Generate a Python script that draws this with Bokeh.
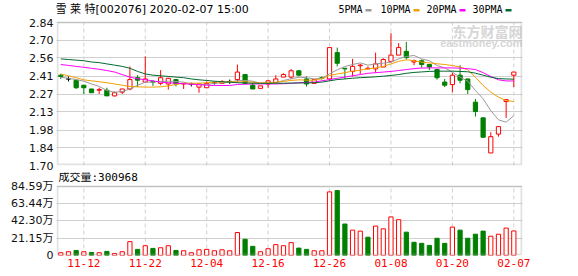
from bokeh.plotting import figure
from bokeh.models import Range1d, FixedTicker, Label, BoxAnnotation, CustomJSTickFormatter, PrintfTickFormatter
from bokeh.layouts import column
from bokeh.embed import file_html
from bokeh.resources import INLINE

# ---------------- data ----------------
dates = ["11-07", "11-08", "11-11", "11-12", "11-13", "11-14", "11-15", "11-18", "11-19", "11-20",
         "11-21", "11-22", "11-25", "11-26", "11-27", "11-28", "11-29", "12-02", "12-03", "12-04",
         "12-05", "12-06", "12-09", "12-10", "12-11", "12-12", "12-13", "12-16", "12-17", "12-18",
         "12-19", "12-20", "12-23", "12-24", "12-25", "12-26", "12-27", "12-30", "12-31", "01-02",
         "01-03", "01-06", "01-07", "01-08", "01-09", "01-10", "01-13", "01-14", "01-15", "01-16",
         "01-17", "01-20", "01-21", "01-22", "01-23", "02-03", "02-04", "02-05", "02-06", "02-07"]

open_ = [2.42, 2.39, 2.38, 2.34, 2.31, 2.30, 2.30, 2.255, 2.285, 2.31,
         2.40, 2.365, 2.37, 2.355, 2.35, 2.385, 2.35, 2.35, 2.325, 2.32,
         2.36, 2.355, 2.37, 2.385, 2.425, 2.34, 2.315, 2.35, 2.36, 2.405,
         2.405, 2.455, 2.39, 2.355, 2.40, 2.39, 2.60, 2.475, 2.45, 2.495,
         2.47, 2.47, 2.485, 2.53, 2.58, 2.61, 2.525, 2.535, 2.505, 2.465,
         2.365, 2.345, 2.42, 2.39, 2.205, 2.08, 1.80, 1.95, 2.21, 2.42]
high = [2.43, 2.41, 2.38, 2.34, 2.31, 2.32, 2.32, 2.29, 2.31, 2.49,
        2.42, 2.57, 2.38, 2.46, 2.40, 2.39, 2.355, 2.36, 2.355, 2.37,
        2.37, 2.38, 2.385, 2.505, 2.43, 2.36, 2.335, 2.38, 2.42, 2.435,
        2.47, 2.46, 2.41, 2.39, 2.41, 2.64, 2.64, 2.475, 2.55, 2.51,
        2.49, 2.60, 2.555, 2.755, 2.675, 2.685, 2.545, 2.545, 2.51, 2.47,
        2.39, 2.44, 2.50, 2.39, 2.23, 2.08, 1.965, 2.01, 2.225, 2.445]
low = [2.39, 2.37, 2.31, 2.27, 2.28, 2.27, 2.255, 2.25, 2.27, 2.30,
       2.325, 2.36, 2.335, 2.34, 2.305, 2.33, 2.31, 2.33, 2.28, 2.32,
       2.345, 2.35, 2.35, 2.36, 2.355, 2.31, 2.31, 2.32, 2.36, 2.405,
       2.39, 2.41, 2.33, 2.35, 2.385, 2.375, 2.49, 2.39, 2.41, 2.43,
       2.47, 2.44, 2.485, 2.52, 2.58, 2.545, 2.50, 2.48, 2.46, 2.385,
       2.325, 2.285, 2.355, 2.27, 2.09, 1.925, 1.80, 1.93, 2.08, 2.325]
close = [2.41, 2.39, 2.32, 2.32, 2.28, 2.305, 2.255, 2.28, 2.31, 2.385,
         2.38, 2.39, 2.365, 2.40, 2.395, 2.35, 2.355, 2.35, 2.35, 2.355,
         2.36, 2.37, 2.37, 2.445, 2.355, 2.31, 2.335, 2.375, 2.39, 2.425,
         2.455, 2.42, 2.35, 2.385, 2.395, 2.64, 2.515, 2.47, 2.49, 2.50,
         2.475, 2.51, 2.545, 2.58, 2.64, 2.56, 2.535, 2.505, 2.485, 2.40,
         2.34, 2.42, 2.38, 2.305, 2.13, 1.925, 1.93, 2.01, 2.225, 2.445]

ma5 = [2.404, 2.395, 2.385, 2.372, 2.35, 2.33, 2.298, 2.284, 2.29, 2.31,
       2.34, 2.364, 2.365, 2.37, 2.372, 2.37, 2.364, 2.35, 2.346, 2.345,
       2.355, 2.358, 2.364, 2.378, 2.378, 2.372, 2.356, 2.356, 2.358, 2.378,
       2.391, 2.404, 2.40, 2.39, 2.396, 2.43, 2.463, 2.489, 2.505, 2.518,
       2.50, 2.51, 2.516, 2.524, 2.55, 2.569, 2.577, 2.55, 2.535, 2.497,
       2.479, 2.444, 2.404, 2.372, 2.298, 2.232, 2.138, 2.064, 2.045, 2.098]
ma10 = [2.43, 2.415, 2.40, 2.383, 2.375, 2.368, 2.36, 2.35, 2.34, 2.33,
        2.327, 2.325, 2.325, 2.327, 2.335, 2.345, 2.356, 2.356, 2.356, 2.36,
        2.364, 2.366, 2.368, 2.366, 2.368, 2.364, 2.358, 2.36, 2.364, 2.37,
        2.378, 2.383, 2.38, 2.38, 2.392, 2.417, 2.43, 2.44, 2.452, 2.46,
        2.47, 2.478, 2.49, 2.51, 2.53, 2.543, 2.535, 2.524, 2.518, 2.511,
        2.505, 2.497, 2.485, 2.463, 2.404, 2.338, 2.285, 2.245, 2.218, 2.21]
ma20 = [2.505, 2.498, 2.49, 2.483, 2.475, 2.467, 2.457, 2.445, 2.425, 2.404,
        2.392, 2.383, 2.375, 2.364, 2.36, 2.356, 2.352, 2.348, 2.344, 2.34,
        2.338, 2.338, 2.338, 2.346, 2.348, 2.35, 2.35, 2.35, 2.35, 2.352,
        2.355, 2.36, 2.362, 2.365, 2.375, 2.385, 2.395, 2.405, 2.415, 2.425,
        2.435, 2.44, 2.445, 2.45, 2.457, 2.465, 2.472, 2.477, 2.478, 2.478,
        2.478, 2.478, 2.476, 2.472, 2.465, 2.44, 2.41, 2.383, 2.374, 2.374]
ma30 = [2.55, 2.545, 2.54, 2.535, 2.525, 2.52, 2.51, 2.50, 2.49, 2.475,
        2.45, 2.43, 2.42, 2.415, 2.41, 2.405, 2.40, 2.39, 2.383, 2.378,
        2.372, 2.368, 2.364, 2.36, 2.358, 2.356, 2.355, 2.355, 2.356, 2.356,
        2.357, 2.358, 2.358, 2.36, 2.365, 2.375, 2.385, 2.39, 2.396, 2.40,
        2.403, 2.407, 2.412, 2.418, 2.425, 2.435, 2.442, 2.446, 2.45, 2.452,
        2.452, 2.452, 2.45, 2.447, 2.436, 2.42, 2.404, 2.393, 2.39, 2.388]

# volume in units of 万 (10,000 shares)
volume = [3.4, 4.6, 6.2, 4.6, 3.7, 3.4, 5.0, 2.5, 4.6, 17.0,
          7.5, 12.0, 8.7, 9.5, 12.0, 6.2, 5.8, 3.4, 7.0, 7.5,
          5.8, 7.0, 5.8, 28.2, 19.9, 11.2, 4.6, 8.3, 13.3, 12.0,
          15.8, 9.1, 7.5, 5.8, 5.8, 78.0, 79.6, 38.6, 31.1, 29.9,
          22.4, 36.1, 32.7, 47.3, 43.9, 28.6, 16.2, 14.9, 12.4, 21.1,
          14.9, 34.8, 31.1, 21.1, 26.1, 29.9, 23.6, 26.1, 33.6, 30.0968]
vol_dir = list("RRGRGRGRRR" "GRGRRGRRRR" "RRRRGGRRRR"
               "RGGRRRGGRR" "GRRRRGGGGG" "GRGGGGRRRR")

price_tick_labels = ["1.70", "1.84", "1.98", "2.13", "2.27", "2.41", "2.56", "2.70", "2.84"]
vol_tick_labels = ["0", "21.15", "42.30", "63.44", "84.59"]
date_tick_idx = [3, 11, 19, 27, 35, 43, 51, 59]

title_text = "雪 莱 特[002076] 2020-02-07 15:00"
legend_names = ["5PMA", "10PMA", "20PMA", "30PMA"]

# ---------------- styling ----------------
RED, GREEN, BLACK = "#ff0000", "#008000", "#000000"
MA_COLORS = ["#999999", "#f0a000", "#ff00ff", "#006a2e"]
GRID = "#d0d0d0"
FRAME = "#a0a0a0"
AX_FONT = "DejaVu Sans, Noto Sans CJK SC"
MONO = "DejaVu Sans Mono, Noto Sans CJK SC"
W = 578
FRAME_W = 466                      # plotting-area width in px
P1_H, P1_TOP, P1_BOT = 172, 22, 7  # price panel: canvas height, frame top/bottom margins
P2_H, P2_TOP, P2_BOT = 104, 14, 21  # volume panel

n = len(dates)
idx = list(range(n))
cndl_col = [RED if c > o else (GREEN if c < o else BLACK) for o, c in zip(open_, close)]
cndl_fill = ["#ffffff" if c > o else col for o, c, col in zip(open_, close, cndl_col)]
body_top = [max(o, c) for o, c in zip(open_, close)]
body_bot = [min(o, c) for o, c in zip(open_, close)]
vol_col = [RED if d == "R" else GREEN for d in vol_dir]
vol_fill = ["#ffffff" if d == "R" else GREEN for d in vol_dir]

xr = Range1d(-0.56, 60.13)


def make_panel(height, top_margin, bottom_margin, y0, y1):
    """Figure whose frame extends up to the canvas top, so that texts above
    the drawn box stay inside the (unclipped) frame area."""
    inner = height - top_margin - bottom_margin
    y_end = y0 + (y1 - y0) * (inner + top_margin) / inner
    p = figure(width=W, height=height, x_range=xr, y_range=Range1d(y0, y_end),
               output_backend="svg", toolbar_location=None,
               min_border_left=56, min_border_right=W - 56 - FRAME_W,
               min_border_top=0, min_border_bottom=bottom_margin)
    p.background_fill_color = "white"
    p.border_fill_color = "white"
    p.outline_line_color = None
    p.xgrid.visible = False
    p.ygrid.grid_line_color = GRID
    for ax in (p.xaxis[0], p.yaxis[0]):
        ax.axis_line_color = None
        ax.major_tick_line_color = None
        ax.minor_tick_line_color = None
        ax.major_tick_out = 0
        ax.minor_tick_out = 0
        ax.major_label_standoff = 3
    p.yaxis[0].major_label_text_font = AX_FONT
    p.yaxis[0].major_label_text_font_size = "11px"
    p.yaxis[0].major_label_text_color = "#111111"
    # dashed vertical grid lines, only inside the drawn box
    p.segment(x0=date_tick_idx, y0=[y0] * len(date_tick_idx), x1=date_tick_idx,
              y1=[y1] * len(date_tick_idx), line_color=GRID, line_dash="4 3", line_width=1)
    # the box around the plotting area
    p.add_layout(BoxAnnotation(left=1, right=FRAME_W - 1, bottom=1, top=y1,
                               left_units="screen", right_units="screen",
                               bottom_units="screen", top_units="data",
                               fill_alpha=0, line_color=FRAME, line_width=2, level="overlay"))
    return p


# ---------------- price panel ----------------
p1 = make_panel(P1_H, P1_TOP, P1_BOT, 1.70, 2.84)
price_ticks = [float(s) for s in price_tick_labels]
p1.yaxis[0].ticker = FixedTicker(ticks=price_ticks)
p1.yaxis[0].formatter = PrintfTickFormatter(format="%.2f")
p1.ygrid.ticker = FixedTicker(ticks=price_ticks)
p1.xaxis[0].visible = False
f1_h = P1_H - P1_BOT  # frame height in px (frame-relative screen y is measured from its bottom)

# watermark
p1.add_layout(Label(x=FRAME_W, y=f1_h - 30, x_units="screen", y_units="screen", text="东方财富网",
                    text_align="right", text_baseline="middle", text_font="Noto Sans CJK SC",
                    text_font_style="bold", text_font_size="14px", text_color="#d6d6d6"))
p1.add_layout(Label(x=FRAME_W, y=f1_h - 42, x_units="screen", y_units="screen", text="eastmoney.com",
                    text_align="right", text_baseline="middle", text_font="Liberation Sans",
                    text_font_style="bold", text_font_size="11px", text_color="#d6d6d6"))

p1.segment(x0=idx, y0=low, x1=idx, y1=high, line_color=cndl_col, line_width=1)
p1.vbar(x=idx, width=0.55, top=body_top, bottom=body_bot,
        fill_color=cndl_fill, line_color=cndl_col, line_width=1)
for ma, col in zip([ma5, ma10, ma20, ma30], MA_COLORS):
    p1.line(idx, ma, line_color=col, line_width=1)

# title and legend
p1.add_layout(Label(x=-1, y=f1_h - 8.5, x_units="screen", y_units="screen", text=title_text,
                    text_baseline="middle", text_font=AX_FONT, text_font_size="11px",
                    text_color="#000000"))
leg_x = [282, 324, 370, 416]
for name, col, lx in zip(legend_names, MA_COLORS, leg_x):
    p1.add_layout(Label(x=lx, y=f1_h - 9, x_units="screen", y_units="screen", text=name,
                        text_baseline="middle", text_font=MONO, text_font_size="10px",
                        text_color="#000000"))
    dx = lx + len(name) * 6 + 3
    p1.add_layout(BoxAnnotation(left=dx, right=dx + 6, bottom=f1_h - 11, top=f1_h - 8.5,
                                left_units="screen", right_units="screen",
                                bottom_units="screen", top_units="screen",
                                fill_color=col, fill_alpha=1, line_color=None))

# ---------------- volume panel ----------------
vmax = float(vol_tick_labels[-1])
p2 = make_panel(P2_H, P2_TOP, P2_BOT, 0, vmax)
vol_ticks = [float(s) for s in vol_tick_labels]
p2.yaxis[0].ticker = FixedTicker(ticks=vol_ticks)
p2.yaxis[0].formatter = CustomJSTickFormatter(code="return tick == 0 ? '0' : tick.toFixed(2) + '万';")
p2.ygrid.ticker = FixedTicker(ticks=vol_ticks)
p2.xaxis[0].ticker = FixedTicker(ticks=date_tick_idx)
p2.xaxis[0].major_label_overrides = {i: dates[i] for i in date_tick_idx}
p2.xaxis[0].major_label_text_color = RED
p2.xaxis[0].major_label_text_font = MONO
p2.xaxis[0].major_label_text_font_size = "11px"

p2.vbar(x=idx, width=0.55, top=volume, bottom=0,
        fill_color=vol_fill, line_color=vol_col, line_width=1)

f2_h = P2_H - P2_BOT
p2.add_layout(Label(x=2, y=f2_h - 5, x_units="screen", y_units="screen",
                    text="成交量:%d" % round(volume[-1] * 10000),
                    text_baseline="middle", text_font=MONO, text_font_size="11px",
                    text_color="#000000"))

layout = column(p1, p2, spacing=0)
open("out.html", "w").write(file_html(layout, INLINE))
